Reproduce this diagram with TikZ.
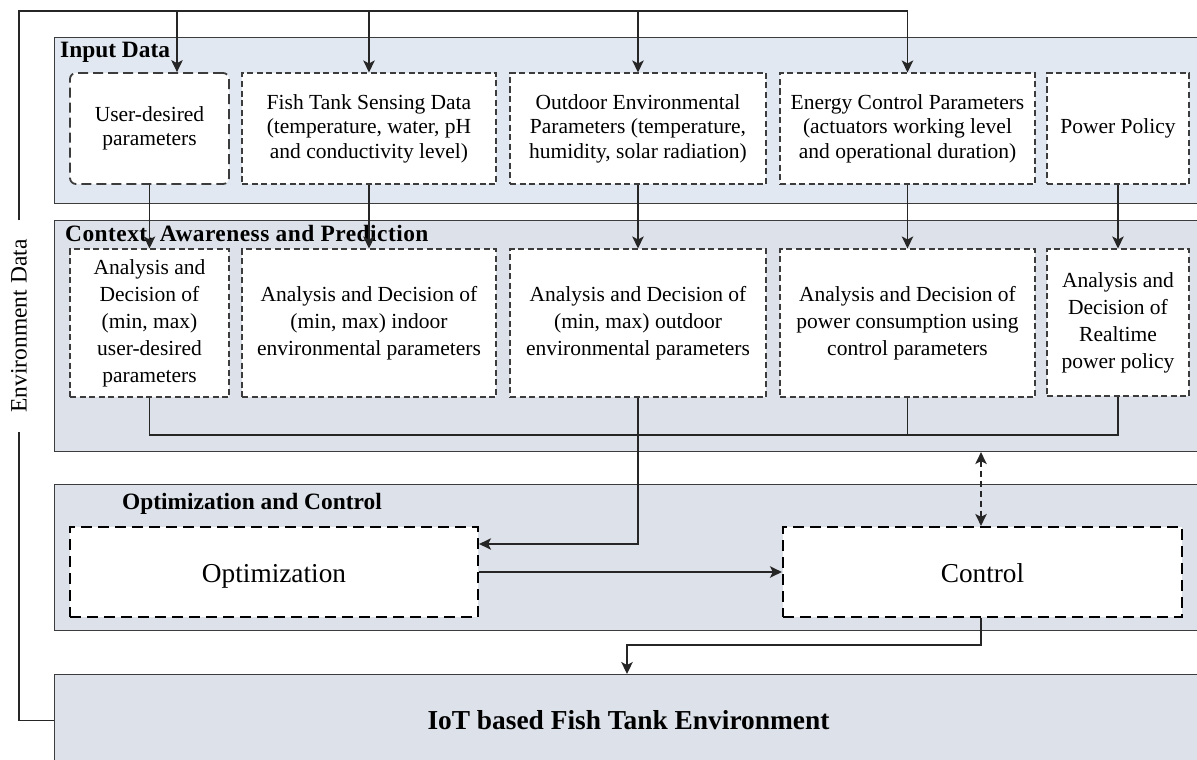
\documentclass[tikz,border=0pt]{standalone}
\usepackage{fontspec}
\setmainfont{Liberation Serif}
\usetikzlibrary{arrows.meta}

\definecolor{inputfill}{HTML}{E2E8F1}
\definecolor{panelfill}{HTML}{DDE1E9}
\definecolor{edgegray}{HTML}{3C3C3C}

\tikzset{
  panel/.style={draw=edgegray, line width=1.1pt, anchor=north west, inner sep=0pt,
                minimum width=1162pt},
  paneltitle/.style={anchor=base west, inner sep=0pt, font=\fontsize{23.4}{26}\selectfont\bfseries},
  databox/.style={draw=edgegray, fill=white, line width=1.1pt, dash pattern=on 6pt off 3.5pt,
                  inner sep=0pt, align=center, font=\fontsize{21.5}{24.5}\selectfont},
  userbox/.style={databox, line width=1.8pt, dash pattern=on 10pt off 5pt, rounded corners=6pt},
  ctxbox/.style={databox, font=\fontsize{21.5}{27}\selectfont},
  bigbox/.style={draw=black, fill=white, line width=2.2pt, dash pattern=on 11pt off 6pt,
                 inner sep=0pt, text height=20pt, text depth=0pt,
                 font=\fontsize{27.3}{30}\selectfont},
  wire/.style={draw=black!85, line width=1.3pt},
  arrow/.style={wire, -{Stealth[length=12pt,width=11.5pt,inset=3pt]}},
  duplex/.style={wire, dash pattern=on 6pt off 4pt,
                 {Stealth[length=12pt,width=11.5pt,inset=3pt]}-{Stealth[length=12pt,width=11.5pt,inset=3pt]}},
  sz/.style 2 args={minimum width=#1, minimum height=#2}
}

\begin{document}
\begin{tikzpicture}[x=1pt,y=-1pt]
\useasboundingbox (0,0) rectangle (1197,760);
\clip (0,0) rectangle (1197,760);

% layer panels (they run past the right edge)
\node[panel, fill=inputfill, minimum height=166pt] (inpanel)  at (54,37)  {};
\node[panel, fill=panelfill, minimum height=231pt] (ctxpanel) at (54,220) {};
\node[panel, fill=panelfill, minimum height=146pt] (optpanel) at (54,484) {};
\node[panel, fill=panelfill, minimum height=100pt] (iotpanel) at (54,674) {};

\node[paneltitle] (intitle)  at (60,58)  {Input Data};
\node[paneltitle, font=\fontsize{23.4}{26}\selectfont\bfseries\addfontfeature{LetterSpace=2}] (ctxtitle) at (65,241) {Context, Awareness and Prediction};
\node[paneltitle] (opttitle) at (122,509) {Optimization and Control};
\node[inner sep=0pt, font=\fontsize{27.4}{30}\selectfont\bfseries] (iottitle) at (628.5,720) {IoT based Fish Tank Environment};

% input data boxes
\node[userbox, sz={159pt}{111pt}] (in1) at (149.5,128.5) {User-desired\\parameters};
\node[databox, sz={254pt}{111pt}] (in2) at (369,128.5) {Fish Tank Sensing Data\\(temperature, water, pH\\and conductivity level)};
\node[databox, sz={256pt}{111pt}] (in3) at (638,128.5) {Outdoor Environmental\\Parameters (temperature,\\humidity, solar radiation)};
\node[databox, sz={255pt}{111pt}] (in4) at (907.5,128.5) {Energy Control Parameters\\(actuators working level\\and operational duration)};
\node[databox, sz={142pt}{111pt}] (in5) at (1118,128.5) {Power Policy};

% context, awareness and prediction boxes
\node[ctxbox, sz={159pt}{148pt}] (ctx1) at (149.5,323) {Analysis and\\Decision of\\(min, max)\\user-desired\\parameters};
\node[ctxbox, sz={254pt}{148pt}] (ctx2) at (369,323) {Analysis and Decision of\\(min, max) indoor\\environmental parameters};
\node[ctxbox, sz={256pt}{148pt}] (ctx3) at (638,323) {Analysis and Decision of\\(min, max) outdoor\\environmental parameters};
\node[ctxbox, sz={255pt}{148pt}] (ctx4) at (907.5,323) {Analysis and Decision of\\power consumption using\\control parameters};
\node[ctxbox, sz={142pt}{147pt}] (ctx5) at (1118,322.5) {Analysis and\\Decision of\\Realtime\\power policy};

% optimization and control boxes
\node[bigbox, sz={408pt}{90pt}] (opt)  at (274,572)   {Optimization};
\node[bigbox, sz={399pt}{90pt}] (ctrl) at (982.5,572) {Control};

% environment data feedback loop
\node[rotate=90, inner xsep=19pt, inner ysep=0pt, font=\fontsize{23.5}{26}\selectfont] (envlabel) at (19,326) {Environment Data};
\coordinate (topline) at (0,11);
\coordinate (bus) at (0,435);
\draw[wire] ([yshift=4pt]iotpanel.west) -| (envlabel.west);
\draw[wire] (envlabel.east) |- (in4.north |- topline);
\draw[arrow] ([xshift=27.5pt]in1.north |- topline) -- ([xshift=27.5pt]in1.north);
\draw[arrow] (in2.north |- topline) -- (in2.north);
\draw[arrow] (in3.north |- topline) -- (in3.north);
\draw[arrow] (in4.north |- topline) -- (in4.north);

% input data to analysis
\draw[arrow] (in1.south) -- (ctx1.north);
\draw[arrow] (in2.south) -- (ctx2.north);
\draw[arrow] (in3.south) -- (ctx3.north);
\draw[arrow] (in4.south) -- (ctx4.north);
\draw[arrow] (in5.south) -- (ctx5.north);

% analysis results collected
\draw[wire] (ctx1.south) |- (ctx5.south |- bus) -- (ctx5.south);
\draw[wire] (ctx4.south) -- (ctx4.south |- bus);
\draw[arrow] (ctx3.south) |- ([yshift=28pt]opt.east);

% optimization, control and the tank
\draw[arrow] (opt.east) -- (ctrl.west);
\draw[duplex] ([xshift=-1.5pt]ctrl.north |- ctxpanel.south) -- ([xshift=-1.5pt]ctrl.north);
\draw[arrow] ([xshift=-1.5pt]ctrl.south) |- ([xshift=573pt,yshift=29pt]iotpanel.north west) -- ([xshift=573pt]iotpanel.north west);
\end{tikzpicture}
\end{document}
